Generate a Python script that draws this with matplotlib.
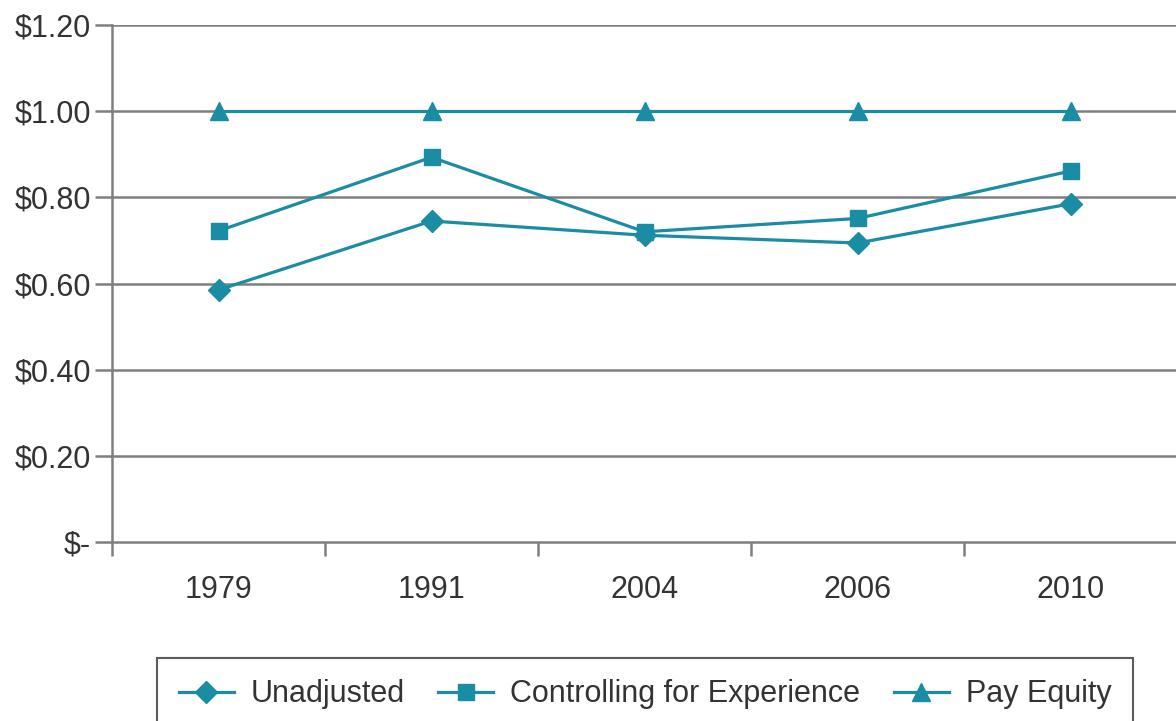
import numpy as np
import matplotlib.pyplot as plt
from matplotlib.ticker import FixedLocator, FuncFormatter

years = ['1979', '1991', '2004', '2006', '2010']
unadjusted = [0.585, 0.745, 0.712, 0.694, 0.785]
controlling = [0.722, 0.893, 0.720, 0.751, 0.861]
pay_equity = [1.00, 1.00, 1.00, 1.00, 1.00]
yticks = [0, 0.2, 0.4, 0.6, 0.8, 1.0, 1.2]

teal = '#1A8CA4'
grey = '#7f7f7f'

plt.rcParams['font.family'] = ['Liberation Sans', 'DejaVu Sans']

fig = plt.figure(figsize=(11.76, 7.21), dpi=100)
ax = fig.add_axes([112/1176, 1 - 542/721, 1065/1176, (542-25)/721])

x = np.arange(len(years))
ax.plot(x, unadjusted, color=teal, lw=2.3, marker='D', ms=11, label='Unadjusted')
ax.plot(x, controlling, color=teal, lw=2.3, marker='s', ms=12, label='Controlling for Experience')
ax.plot(x, pay_equity, color=teal, lw=2.3, marker='^', ms=13, label='Pay Equity')

ax.set_xlim(-0.5, len(years) - 0.5)
ax.set_ylim(0, 1.2)

ax.set_yticks(yticks)
ax.yaxis.set_major_formatter(FuncFormatter(lambda v, p: '$-' if v == 0 else '${:.2f}'.format(v)))
for v in yticks[1:]:
    ax.axhline(v, color=grey, lw=1.8, zorder=0)

ax.set_xticks(x)
ax.set_xticklabels(years)
ax.xaxis.set_minor_locator(FixedLocator(np.arange(len(years) + 1) - 0.5))
ax.tick_params(axis='x', which='major', length=0, pad=24, labelsize=22, colors='#333333')
ax.tick_params(axis='x', which='minor', length=10, width=1.8, color=grey, direction='out')
ax.tick_params(axis='y', length=12, width=1.8, color=grey, pad=3, labelsize=22, labelcolor='#333333')

for s in ['top', 'right']:
    ax.spines[s].set_visible(False)
for s in ['left', 'bottom']:
    ax.spines[s].set_color(grey)
    ax.spines[s].set_linewidth(1.8)

leg = fig.legend(loc='upper center', bbox_to_anchor=(645/1176, 1 - 658/721), ncol=3,
                 fontsize=22, frameon=True, fancybox=False, edgecolor='#333333',
                 handlelength=1.8, columnspacing=1.1, handletextpad=0.55, borderpad=0.7,
                 borderaxespad=0, labelcolor='#333333')
leg.get_frame().set_linewidth(1.5)

fig.savefig('out.png', dpi=100)
